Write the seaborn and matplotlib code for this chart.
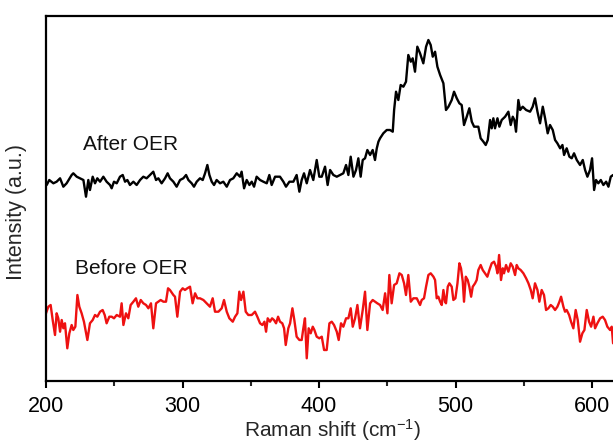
import numpy as np
import pandas as pd
import matplotlib
matplotlib.use("Agg")
import matplotlib.pyplot as plt
import seaborn as sns
from matplotlib.ticker import MultipleLocator

# ---- data (arbitrary intensity units) ----
after_shift = [
    200.5, 202.4, 205.4, 207.8, 210.3, 212.7, 215.1, 218.8, 220.0, 222.5,
    224.9, 227.4, 229.3, 231.0, 232.2, 234.2, 235.9, 237.6, 239.6, 242.0,
    244.4, 246.9, 248.1, 249.8, 251.8, 254.2, 256.2, 257.9, 259.6, 261.5,
    264.0, 266.4, 268.9, 271.3, 273.7, 276.2, 278.6, 280.6, 282.3, 284.7,
    287.2, 289.1, 290.8, 293.3, 295.7, 298.2, 300.6, 302.6, 304.3, 306.7,
    308.4, 310.4, 312.8, 314.8, 316.5, 318.2, 319.7, 321.4, 323.1, 325.0,
    327.5, 329.9, 332.4, 334.8, 337.2, 339.7, 342.1,
    343.3, 345.1, 347.0, 349.0, 350.7, 352.4, 354.3, 356.8, 359.2, 361.7,
    363.6, 365.3, 367.8, 371.4, 373.9, 375.8, 378.3, 381.2, 383.6, 385.6,
    387.3, 389.0, 391.0, 393.4, 395.8, 398.3, 400.2, 402.0, 404.4, 406.3,
    408.1, 410.5, 413.0, 415.4, 417.8, 419.8, 421.5, 423.2, 425.2, 427.1,
    428.8, 430.5, 432.0, 433.7, 435.4, 437.4, 439.3, 441.0, 442.3, 443.5,
    444.7, 447.1, 449.6, 452.0, 454.0, 455.0, 456.4, 458.1, 459.8, 461.8,
    463.7, 465.4, 467.2, 468.6, 470.3, 472.0,
    474.0, 476.4, 478.4, 480.1, 481.8, 483.3, 485.0, 486.7, 488.7, 491.1,
    493.0, 494.8, 497.2, 498.9, 500.9, 502.8, 504.5, 506.2, 508.2, 510.1,
    511.9, 513.6, 516.7, 518.4, 520.4, 522.1, 523.6, 525.3, 526.5, 527.7,
    528.9, 530.7, 532.1, 533.8, 536.3, 538.7, 540.4, 541.9, 543.1, 544.3,
    546.0, 547.3, 549.2, 551.7, 554.6, 556.5, 558.2, 560.0, 561.9, 563.9,
    565.6, 567.5, 569.2, 571.2, 572.9, 574.6, 576.6, 578.3, 579.5, 581.4,
    583.4, 585.1, 586.8, 588.8, 591.2, 593.2, 594.9, 596.6, 598.5, 600.0,
    601.5, 602.9, 604.6, 606.4, 608.3, 610.3, 612.0, 613.7, 615.4,
]
after_intensity = [
    196, 201, 197.7, 199.3, 202.7, 194.3, 197.7, 206, 207.7, 204.3,
    202.7, 201, 184.3, 201, 191, 204.3, 197.7, 202.7, 199.3, 204.3,
    199.3, 196, 192.7, 199.3, 197.7, 204.3, 206, 199.3, 201, 196,
    199.3, 196, 201, 204.3, 202.7, 206, 209.3, 201, 202.7, 197.7,
    202.7, 207.7, 202.7, 199.3, 194.3, 201, 202.7, 206, 201, 197.7,
    194.3, 199.3, 202.7, 201, 207.7, 216, 206, 199.3, 196, 201,
    197.7, 199.3, 194.3, 201, 202.7, 207.7, 204.3,
    209.3, 192.7, 201, 196, 199.3, 194.3, 204.3, 201, 199.3, 197.7,
    206, 196, 204.3, 204.3, 199.3, 194.3, 199.3, 199.3, 206, 189.3,
    201, 207.7, 197.7, 211, 201, 221, 204.3, 204.3, 214.3, 196,
    211, 206, 204.3, 206, 207.7, 216, 206, 224.3, 204.3, 211,
    222.7, 204.3, 221, 222.7, 231, 226, 231, 221, 232.7, 239.3,
    242.7, 247.7, 251, 251, 249.3, 271, 289.3, 281, 296, 294.3,
    299.3, 326, 319.3, 322.7, 309.3, 334.3,
    327.7, 317.7, 334.3, 341, 336, 324.3, 329.3, 314.3, 306, 297.7,
    271, 274.3, 281, 289.3, 282.7, 277.7, 276, 256, 264.3, 272.7,
    259.3, 254.3, 254.3, 242.7, 239.3, 236, 241, 261, 252.7, 262.7,
    252.7, 262.7, 254.3, 261, 264.3, 269.3, 256, 264.3, 261, 249.3,
    281, 271, 274.3, 271, 269.3, 274.3, 282.7, 269.3, 257.7, 274.3,
    262.7, 247.7, 256, 251, 241, 237.7, 232.7, 236, 226, 232.7,
    224.3, 222.7, 227.7, 221, 216, 221, 211, 204.3, 211, 222.7,
    191, 201, 197.7, 201, 196, 199.3, 194.3, 204.3, 206,
]

before_shift = [
    200.0, 201.7, 203.4, 204.9, 206.6, 207.8, 209.0, 210.3, 211.5, 212.7,
    213.9, 215.6, 217.1, 218.8, 220.0, 221.5, 223.0, 224.4, 226.1, 227.8,
    230.3, 232.2, 234.2, 235.9, 237.6, 239.6, 241.5, 243.0, 244.4, 246.4,
    248.1, 249.8, 251.8, 254.2, 255.4, 256.7, 258.6, 260.3, 262.0, 264.0,
    265.9, 267.6, 269.4, 271.3, 273.3, 275.0, 276.9, 278.6, 280.6, 282.3,
    284.0, 286.0, 287.9, 289.4, 290.8, 293.3, 294.5, 296.2, 298.2, 300.1,
    301.8, 303.5, 305.5, 307.4, 309.2, 310.9, 312.8, 315.3, 317.7, 320.1,
    322.1, 323.8, 326.3, 328.7, 330.4, 332.4, 334.3,
    336.8, 338.5, 340.2, 341.6, 342.9, 344.6, 346.3, 348.2, 350.7, 353.1,
    354.8, 356.8, 358.5, 360.0, 361.2, 362.4, 364.1, 365.6, 367.0, 368.5,
    370.0, 371.4, 373.1, 374.4, 375.6, 377.5, 378.8, 380.5, 381.9, 383.6,
    385.6, 387.3, 388.5, 389.7, 391.0, 392.4, 393.9, 395.4, 396.6, 398.3,
    400.2, 402.0, 403.7, 405.6, 407.6, 409.3, 411.0, 413.0, 414.4, 416.1,
    417.8, 419.8, 421.5, 423.2, 424.7, 426.4, 428.1, 430.0, 432.0, 433.7,
    435.4, 437.4, 439.3, 441.0, 442.7, 444.7, 446.6, 448.4, 450.1, 451.5,
    453.2, 455.0, 456.9, 458.9, 460.6, 462.3, 463.7, 465.4, 467.2, 469.1,
    471.6,
    474.0, 475.2, 476.9, 478.4, 480.1, 481.8, 483.8, 485.0, 486.2, 487.4,
    488.7, 489.9, 491.1, 492.3, 493.0, 494.3, 495.5, 497.2, 498.4, 499.9,
    501.4, 502.8, 504.0, 505.3, 506.2, 507.5, 508.9, 510.1, 511.4, 512.6,
    514.3, 515.5, 516.7, 518.4, 519.9, 521.6, 523.3, 524.8, 526.5, 528.2,
    529.7, 530.7, 531.9, 533.3, 534.6, 535.5, 537.0, 538.7, 540.4, 541.9,
    543.6, 544.8, 546.0, 547.7, 549.7, 551.7, 553.4, 555.1, 556.5, 558.2,
    560.0, 561.4, 563.1, 564.8, 566.3, 568.0, 569.7, 571.2, 572.9, 574.6,
    576.1, 577.3, 579.0, 580.2, 581.4, 583.2, 584.6, 586.3, 588.0, 589.5,
    591.2, 592.9, 594.4, 596.1, 597.8, 599.3, 601.0, 602.2, 603.9, 605.9,
    607.8, 609.5, 611.2, 613.2, 614.4, 615.4,
]
before_intensity = [
    67.7, 74.3, 76, 61, 46, 67.7, 62.7, 49.3, 61, 52.7,
    57.7, 32.7, 47.7, 56, 51, 54.3, 86, 74.3, 67.7, 59.3,
    41, 57.7, 61, 66, 64.3, 69.3, 71, 66, 57.7, 64.3,
    64.3, 62.7, 66, 64.3, 77.7, 56, 67.7, 62.7, 76, 79.3,
    82.7, 74.3, 81, 77.7, 76, 72.7, 77.7, 52.7, 77.7, 79.3,
    81, 79.3, 79.3, 92.7, 91, 86, 84.3, 64.3, 89.3, 92.7,
    91, 92.7, 94.3, 77.7, 87.7, 82.7, 82.7, 81, 77.7, 74.3,
    82.7, 69.3, 69.3, 72.7, 81, 69.3, 62.7,
    59.3, 64.3, 67.7, 89.3, 81, 89.3, 69.3, 66, 66, 69.3,
    64.3, 57.7, 56, 59.3, 49.3, 62.7, 59.3, 62.7, 61, 57.7,
    64.3, 59.3, 57.7, 52.7, 36, 52.7, 57.7, 72.7, 61, 44.3,
    41, 41, 52.7, 62.7, 22.7, 52.7, 47.7, 54.3, 51, 44.3,
    42.7, 44.3, 31, 31, 57.7, 59.3, 56, 49.3, 41, 57.7,
    54.3, 62.7, 62.7, 72.7, 54.3, 62.7, 76, 52.7, 71, 89.3,
    51, 77.7, 81, 79.3, 77.7, 76, 71, 87.7, 67.7, 106,
    77.7, 96, 97.7, 107.7, 106, 97.7, 86, 106, 79.3, 82.7,
    82.7,
    76, 81, 82.7, 94.3, 106, 107.7, 104.3, 101, 82.7, 84.3,
    79.3, 76, 91, 79.3, 77.7, 94.3, 97.7, 94.3, 81, 82.7,
    97.7, 117.7, 112.7, 99.3, 79.3, 104.3, 101, 94.3, 84.3, 94.3,
    97.7, 101, 111, 116, 111, 107.7, 104.3, 111, 117.7, 119.3,
    114.3, 107.7, 126, 101, 112.7, 107.7, 116, 109.3, 117.7, 114.3,
    106, 116, 112.7, 111, 107.7, 102.7, 97.7, 91, 82.7, 97.7,
    91, 79.3, 91, 86, 71, 72.7, 76, 74.3, 71, 74.3,
    79.3, 84.3, 74.3, 69.3, 71, 66, 59.3, 52.7, 71, 61,
    39.3, 47.7, 51, 71, 59.3, 54.3, 64.3, 52.7, 57.7, 62.7,
    64.3, 61, 54.3, 51, 54.3, 37.7,
]

series_labels = ["After OER", "Before OER"]
x_ticks = [200, 300, 400, 500, 600]

# ---- styling ----
sns.set_style("ticks")
plt.rcParams["font.family"] = ["Liberation Sans", "DejaVu Sans"]
plt.rcParams["mathtext.default"] = "regular"

W, H = 613, 446
fig = plt.figure(figsize=(W / 100, H / 100), dpi=100)
ax = fig.add_axes([46 / W, 1 - 381 / H, 572 / W, 365 / H])

df_after = pd.DataFrame({"shift": after_shift, "intensity": after_intensity})
df_before = pd.DataFrame({"shift": before_shift, "intensity": before_intensity})

sns.lineplot(data=df_after, x="shift", y="intensity", sort=False, estimator=None,
             color="black", lw=1.7, ax=ax)
sns.lineplot(data=df_before, x="shift", y="intensity", sort=False, estimator=None,
             color="#ee1111", lw=1.7, ax=ax)

ax.set_xlim(200, 619)
ax.set_ylim(0, 365)
ax.set_xticks(x_ticks)
ax.xaxis.set_minor_locator(MultipleLocator(50))
ax.set_yticks([])
ax.tick_params(axis="x", which="major", direction="out", length=5, width=1.5,
               labelsize=15.5, pad=6, colors="black")
ax.tick_params(axis="x", which="minor", direction="out", length=3.5, width=1.5)
for s in ax.spines.values():
    s.set_linewidth(1.6)
    s.set_color("black")
    s.set_visible(True)

ax.set_xlabel("Raman shift (cm$^{-1}$)", fontsize=15, labelpad=0)
ax.set_ylabel("Intensity (a.u.)", fontsize=15.5)
ax.yaxis.set_label_coords(-0.033, 0.463)

ax.text(226.9, 236, series_labels[0], fontsize=15, va="center", ha="left", color="#111111")
ax.text(221.2, 113, series_labels[1], fontsize=15, va="center", ha="left", color="#111111")

fig.savefig("out.png", dpi=100)
